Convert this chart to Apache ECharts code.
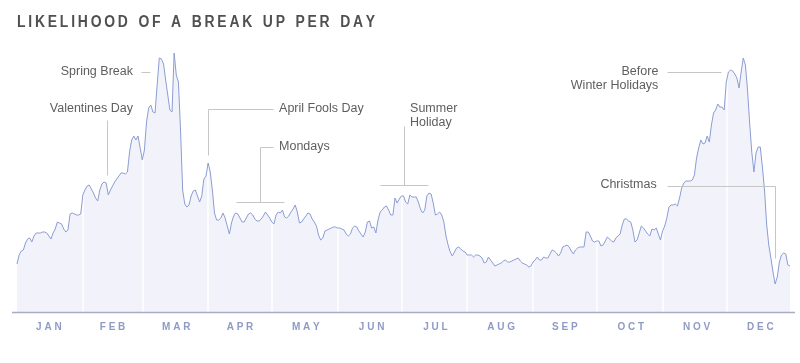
<!DOCTYPE html>
<html><head><meta charset="utf-8">
<script src="https://cdn.jsdelivr.net/npm/echarts@6/dist/echarts.min.js"></script>
<style>html,body{margin:0;padding:0;background:#fff}#c{width:800px;height:363px}</style>
</head><body><div id="c"></div>
<script>
// Daily values (relative likelihood)
const jan=[48,57,61,62,69,73,74,70,76,79,79,79,80,80,79,76,73,79,83,90,89,88,83,80,82,98,99,98,97,97,98];
const feb=[117,122,126,127,123,119,114,111,122,128,130,129,117,122,126,130,133,136,139,139,138,140,160,172,176,172,176,164];
const mar=[152,162,190,204,207,200,199,227,254,253,248,232,217,202,200,259,237,230,182,122,108,105,107,116,121,122,116,110,116,133,136];
const apr=[149,140,122,99,92,92,94,99,94,86,78,89,96,99,98,94,90,90,94,98,99,97,93,91,91,93,96,100,97,94];
const may=[90,88,97,100,99,102,95,94,96,100,103,107,100,89,90,93,96,99,98,93,90,86,77,72,74,81,82,83,84,85,85];
const jun=[84,84,83,82,78,76,78,84,86,85,81,78,75,80,90,91,84,85,79,92,100,102,105,106,102,97,97,114,109,113];
const jul=[116,116,110,108,117,115,115,115,110,103,99,102,116,119,118,109,97,98,100,97,90,76,67,60,56,60,64,65,63,61,60];
const aug=[57,57,57,55,57,57,56,54,49,50,55,52,49,46,47,48,49,51,52,50,50,51,52,53,54,51,49,48,47,45,46];
const sep=[50,52,55,52,52,55,54,54,58,62,61,59,56,59,65,66,67,65,61,58,62,64,65,65,65,80,80,76,71,70];
const oct=[71,71,66,67,71,75,73,71,70,74,76,78,87,93,93,91,90,82,70,72,79,86,84,81,78,76,83,82,84,78,72];
const nov=[81,86,94,105,107,107,108,106,114,124,129,131,131,131,132,137,154,164,172,168,169,176,170,187,199,202,208,205,205,202];
const dec=[230,240,242,241,238,234,224,240,254,247,222,189,160,140,159,165,165,145,122,88,67,54,40,28,35,50,57,59,58,47,46];

const monthNames=['JAN','FEB','MAR','APR','MAY','JUN','JUL','AUG','SEP','OCT','NOV','DEC'];
const monthLabelDay=[15,45,75,105,136,167,197,228,258,289,320,350];
const monthStartDay=[31,59,90,120,151,181,212,243,273,304,334];
const titleText='LIKELIHOOD OF A BREAK UP PER DAY';

// annotation texts, anchored in data space [dayIndex, value]
const noteTexts=[
  {t:'Spring Break', at:[54.6,240], align:'right'},
  {t:'Valentines Day', at:[54.6,203], align:'right'},
  {t:'April Fools Day', at:[123.4,203], align:'left'},
  {t:'Mondays', at:[123.4,165], align:'left'},
  {t:'Summer', at:[185.1,203], align:'left'},
  {t:'Holiday', at:[185.1,189], align:'left'},
  {t:'Before', at:[302,240], align:'right'},
  {t:'Winter Holidays', at:[302,226], align:'right'},
  {t:'Christmas', at:[301.2,127], align:'right'}
];
const leaders=[
  [[58.4,240],[62.6,240]],
  [[42.2,192],[42.2,137]],
  [[89.8,157],[89.8,203],[120.4,203]],
  [[120.4,165],[114.4,165],[114.4,110]],
  [[103.1,110],[125.7,110]],
  [[182.2,186],[182.2,127]],
  [[171,127],[193.4,127]],
  [[305.9,240],[331.4,240]],
  [[305.9,126],[356.9,126],[356.9,54]]
];

const values=[].concat(jan,feb,mar,apr,may,jun,jul,aug,sep,oct,nov,dec);
const days=values.map((_,i)=>String(i+1));
const spaced=s=>s.split(' ').map(w=>w.split('').join(' ')).join('   ');
const spacedTitle=s=>s.split(' ').map(w=>w.split('').join('\u2009')).join('\u2009  ');

const chart=echarts.init(document.getElementById('c'),null,{renderer:'canvas'});
chart.setOption({
  animation:false,
  backgroundColor:'#ffffff',
  grid:{left:17,right:10,top:40,bottom:51,outerBoundsMode:'none'},
  xAxis:{
    type:'category',data:days,boundaryGap:false,z:2,
    axisLine:{show:false},
    axisTick:{show:false},
    axisLabel:{
      interval:(i)=>monthLabelDay.includes(i),
      formatter:(v,i)=>{const k=monthLabelDay.indexOf(i);return k>=0?spaced(monthNames[k]):'';},
      color:'#8f9bc6',fontFamily:'Liberation Sans',fontWeight:'bold',fontSize:10,margin:10
    },
    splitLine:{show:true,interval:(i)=>monthStartDay.includes(i),lineStyle:{color:'#ffffff',width:1.5}}
  },
  yAxis:{type:'value',min:0,max:272,show:false,splitLine:{show:false}},
  series:[
    {type:'line',data:values,z:1,symbol:'none',lineStyle:{width:0},areaStyle:{color:'#f2f3fa',opacity:1},silent:true},
    {type:'line',data:values,z:3,symbol:'none',lineStyle:{color:'#8c9dd3',width:1},silent:true}
  ]
});

const p0=chart.convertToPixel({gridIndex:0},[0,0]);
const p1=chart.convertToPixel({gridIndex:0},[364,272]);
const px=d=>p0[0]+(p1[0]-p0[0])*d/364;
const py=v=>p0[1]+(p1[1]-p0[1])*v/272;
const crisp=n=>Math.round(n)+0.5;

const g=[];
// baseline axis, slightly extended beyond the first and last day
g.push({type:'line',z:4,shape:{x1:px(0)-5,y1:py(0)+0.5,x2:px(364)+5,y2:py(0)+0.5},
  style:{stroke:'#a8adc3',lineWidth:1.6}});
leaders.forEach(pts=>{
  g.push({type:'polyline',z:10,shape:{points:pts.map(p=>[crisp(px(p[0])),crisp(py(p[1]))])},
    style:{stroke:'#c6c6c6',lineWidth:1,fill:null}});
});
noteTexts.forEach(n=>{
  g.push({type:'text',z:11,x:px(n.at[0]),y:py(n.at[1]),
    style:{text:n.t,fill:'#5e5e5e',font:'12.5px "Liberation Sans", Arial, sans-serif',textAlign:n.align,textVerticalAlign:'middle'}});
});
g.push({type:'text',z:11,x:17,y:23,scaleX:0.87,originX:0,originY:0,
  style:{text:spacedTitle(titleText),fill:'#505050',
  font:'bold 16px "Liberation Sans", Arial, sans-serif',textAlign:'left',textVerticalAlign:'middle'}});
chart.setOption({graphic:g});
</script></body></html>
